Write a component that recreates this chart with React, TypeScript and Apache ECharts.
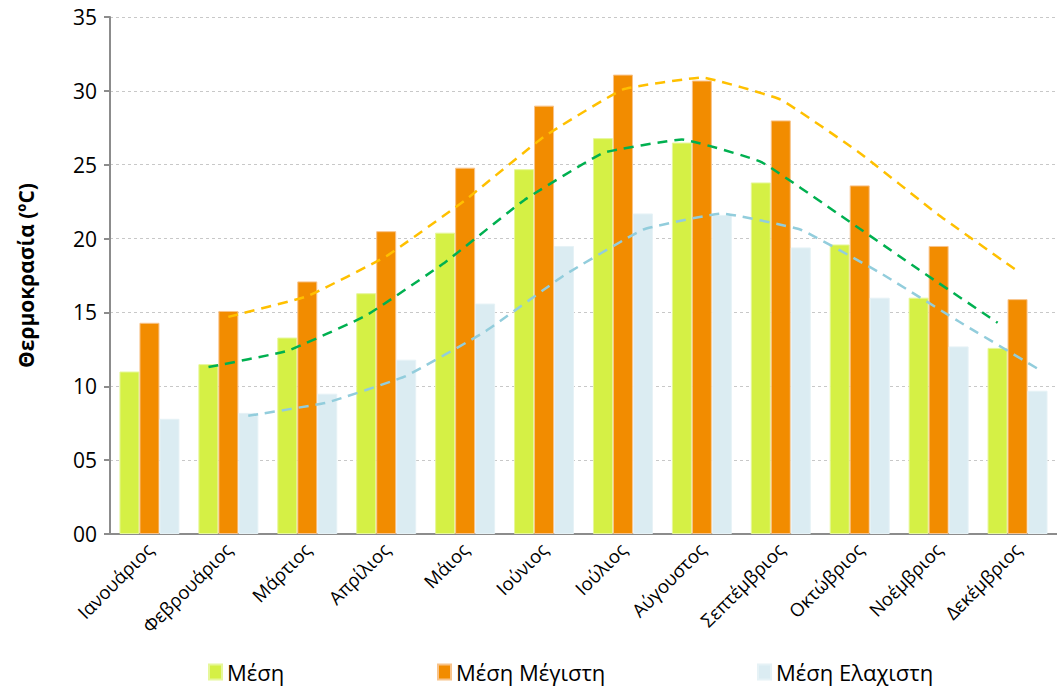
import React, { useEffect, useRef } from "react";
import * as echarts from "echarts";

const months = [
  "Ιανουάριος", "Φεβρουάριος", "Μάρτιος", "Απρίλιος", "Μάιος", "Ιούνιος",
  "Ιούλιος", "Αύγουστος", "Σεπτέμβριος", "Οκτώβριος", "Νοέμβριος", "Δεκέμβριος",
];
const meanTemp = [11.0, 11.5, 13.3, 16.3, 20.4, 24.7, 26.8, 26.5, 23.8, 19.6, 16.0, 12.6];
const meanMax = [14.3, 15.1, 17.1, 20.5, 24.8, 29.0, 31.1, 30.7, 28.0, 23.6, 19.5, 15.9];
const meanMin = [7.8, 8.2, 9.5, 11.8, 15.6, 19.5, 21.7, 21.6, 19.4, 16.0, 12.7, 9.7];

const meanTrend = [null, 11.3, 12.4, 14.8, 18.4, 22.6, 25.8, 26.7, 25.2, 21.6, 17.9, 14.3];
const maxTrend = [null, 14.7, 16.1, 18.8, 22.6, 26.9, 30.1, 30.9, 29.4, 25.8, 21.6, 17.8];
const minTrend = [null, 8.0, 8.9, 10.7, 13.7, 17.5, 20.6, 21.7, 20.6, 17.7, 14.4, 11.2];

const yTicks = { min: 0, max: 35, interval: 5 };

const FONT = "'Open Sans', 'Noto Sans', sans-serif";
const C_MEAN = "#D5F045";
const C_MAX = "#F28C00";
const C_MIN = "#DBECF2";
const OFF = 20 / 79.4;

function toPoints(arr: (number | null)[], off: number) {
  const out: number[][] = [];
  arr.forEach((v, i) => {
    if (v != null) out.push([i + off, v]);
  });
  return out;
}

export default function App() {
  const ref = useRef<HTMLDivElement>(null);
  useEffect(() => {
    if (!ref.current) return;
    const chart = echarts.init(ref.current, null, { renderer: "svg" });
    const trendLine = (name: string, data: (number | null)[], off: number, color: string) => ({
      name,
      type: "line",
      xAxisIndex: 1,
      data: toPoints(data, off),
      showSymbol: false,
      symbol: "none",
      smooth: 0.1,
      lineStyle: { color, width: 2.5, type: [10, 7] },
      z: 5,
      silent: true,
    });
    const legend = (name: string, left: number) => ({
      data: [name],
      left,
      top: 656,
      icon: "rect",
      itemWidth: 13,
      itemHeight: 15,
      textStyle: { fontFamily: FONT, fontSize: 22, color: "#000" },
    });
    chart.setOption({
      animation: false,
      backgroundColor: "#fff",
      textStyle: { fontFamily: FONT },
      legend: [
        legend("Μέση", 203),
        legend("Μέση Μέγιστη", 432),
        legend("Μέση Ελαχιστη", 752),
      ],
      grid: { left: 110, right: -6, top: 17, bottom: 156, containLabel: false },
      xAxis: [
        {
          type: "category",
          data: months,
          axisLine: { onZero: false, lineStyle: { color: "#8c8c8c", width: 2 } },
          axisTick: { show: false },
          axisLabel: {
            rotate: 45,
            interval: 0,
            margin: 12,
            fontSize: 18.5,
            color: "#000",
            fontFamily: FONT,
          },
        },
        { type: "value", min: -0.5, max: 11.5, show: false },
      ],
      yAxis: {
        type: "value",
        min: yTicks.min,
        max: yTicks.max,
        interval: yTicks.interval,
        name: "Θερμοκρασία (ºC)",
        nameLocation: "middle",
        nameRotate: 90,
        nameGap: 74,
        nameTextStyle: { fontFamily: FONT, fontSize: 21, fontWeight: "bold", color: "#000" },
        axisLine: { show: true, onZero: false, lineStyle: { color: "#8c8c8c", width: 2 } },
        axisTick: { show: true, length: 6, lineStyle: { color: "#8c8c8c", width: 2 } },
        axisLabel: {
          fontSize: 21,
          color: "#000",
          fontFamily: FONT,
          margin: 13,
          formatter: (v: number) => String(v).padStart(2, "0"),
        },
        splitLine: { lineStyle: { color: "#c8c8c8", type: [3, 3], width: 1 } },
      },
      series: [
        {
          name: "Μέση",
          type: "bar",
          data: meanTemp,
          barWidth: 20,
          barGap: "0%",
          itemStyle: { color: C_MEAN, borderColor: "#e6f79a", borderWidth: 1 },
        },
        {
          name: "Μέση Μέγιστη",
          type: "bar",
          data: meanMax,
          barWidth: 20,
          barGap: "0%",
          itemStyle: { color: C_MAX, borderColor: "#f8c38a", borderWidth: 1 },
        },
        {
          name: "Μέση Ελαχιστη",
          type: "bar",
          data: meanMin,
          barWidth: 20,
          barGap: "0%",
          itemStyle: { color: C_MIN, borderColor: "#e6f2f6", borderWidth: 1 },
        },
        trendLine("meanTrend", meanTrend, -OFF, "#00B050"),
        trendLine("maxTrend", maxTrend, 0, "#FFC000"),
        trendLine("minTrend", minTrend, OFF, "#92CDDC"),
      ],
    });
    return () => chart.dispose();
  }, []);
  return (
    <div
      ref={ref}
      style={{ position: "fixed", left: 0, top: 0, width: 1057, height: 690 }}
    />
  );
}
